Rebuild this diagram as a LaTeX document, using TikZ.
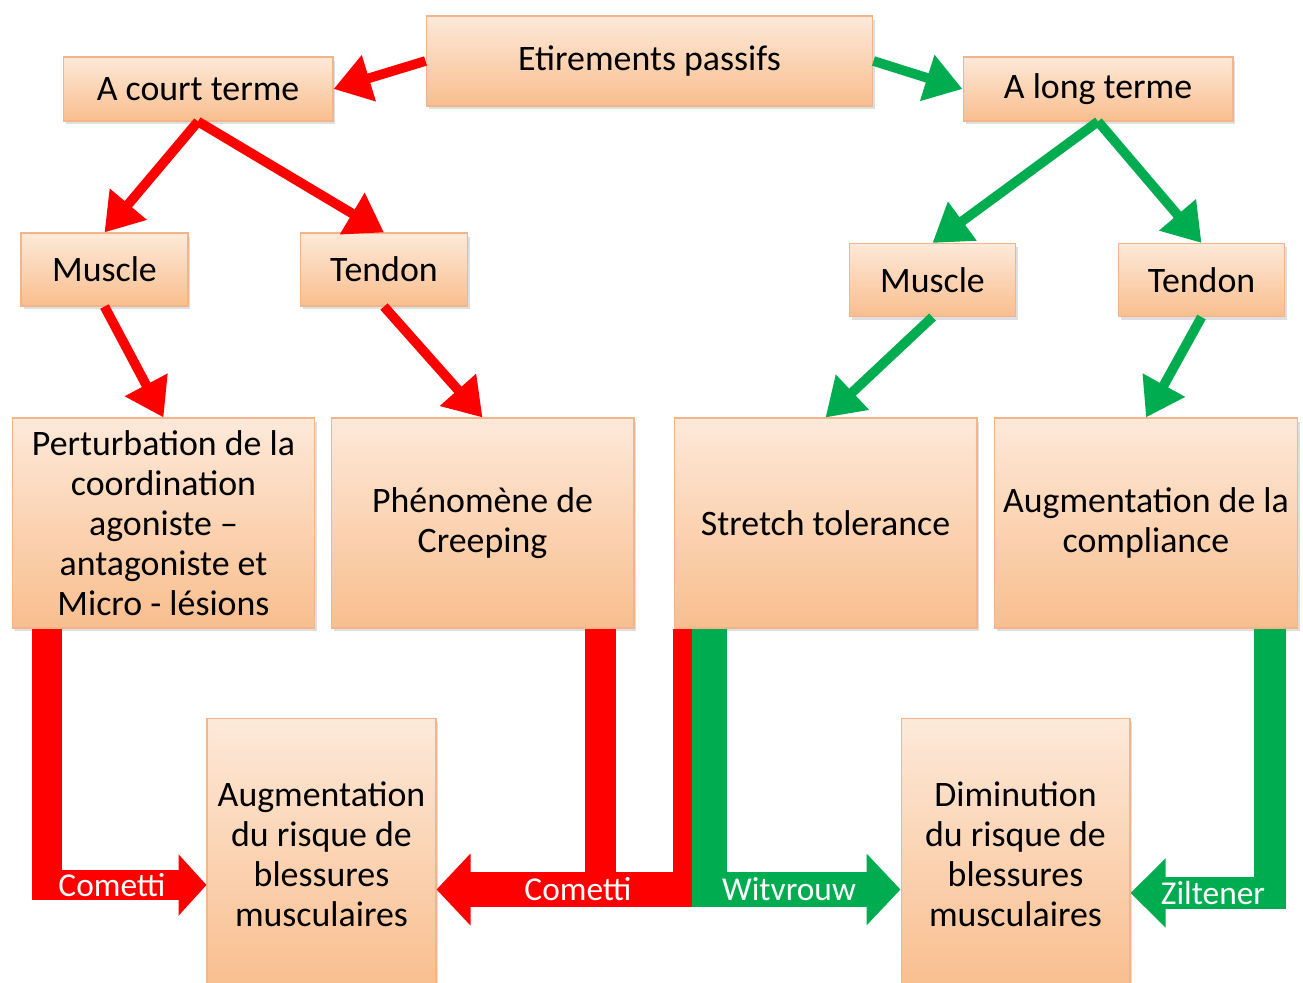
\documentclass[tikz,border=0pt]{standalone}
\usepackage{fontspec}
\setmainfont{Carlito}
\usetikzlibrary{positioning,arrows.meta,calc,shadows}

\definecolor{boxtop}{HTML}{FDE9D9}
\definecolor{boxbot}{HTML}{F9BE8E}
\definecolor{boxline}{HTML}{F2B48A}
\definecolor{pptred}{HTML}{FF0000}
\definecolor{pptgreen}{HTML}{00AC50}

\tikzset{
  box/.style={rectangle, draw=boxline, line width=0.6pt,
    top color=boxtop, bottom color=boxbot, align=center, inner sep=0pt,
    font=\fontsize{20.4}{22.7}\selectfont,
    drop shadow={opacity=0.25, shadow xshift=0.05cm, shadow yshift=-0.07cm}},
  linkarrow/.style={line width=5.5pt, -{Triangle[length=0.74cm,width=0.92cm]}},
  bandarrow/.style={line width=#1, line join=miter,
    -{Triangle[length=0.68cm,width=1.4cm]}},
  bandlabel/.style={text=white, inner sep=0pt, font=\fontsize{19}{20}\selectfont},
}

\begin{document}
\begin{tikzpicture}[x=0.02cm, y=-0.02cm]
    \useasboundingbox (0,0) rectangle (1303,983);
    \fill[white] (0,0) rectangle (1303,983);

    % top row
    \node[box, minimum width=8.94cm, minimum height=1.8cm] (Etirements) at (649.5,61) {Etirements passifs};
    \node[box, minimum width=5.4cm, minimum height=1.28cm] (Court) at (198,89) {A court terme};
    \node[box, minimum width=5.4cm, minimum height=1.28cm] (Long) at (1098,89) {A long terme};

    % muscle / tendon
    \node[box, minimum width=3.34cm, minimum height=1.46cm] (MuscleCourt) at (104.5,269.5) {Muscle};
    \node[box, minimum width=3.34cm, minimum height=1.46cm] (TendonCourt) at (384,269.5) {Tendon};
    \node[box, minimum width=3.32cm, minimum height=1.46cm] (MuscleLong) at (932.5,280) {Muscle};
    \node[box, minimum width=3.32cm, minimum height=1.46cm] (TendonLong) at (1201.5,280) {Tendon};

    % effects
    \node[box, minimum width=6.06cm, minimum height=4.2cm] (Perturbation) at (163.5,523) {%
      Perturbation de la\\coordination\\agoniste –\\antagoniste et\\Micro - lésions};
    \node[box, minimum width=6.06cm, minimum height=4.2cm] (Creeping) at (482.5,523) {%
      Phénomène de\\Creeping};
    \node[box, minimum width=6.06cm, minimum height=4.2cm] (Stretch) at (825.5,523) {%
      Stretch tolerance};
    \node[box, minimum width=6.06cm, minimum height=4.2cm] (Compliance) at (1146,523) {%
      Augmentation de la\\compliance};

    % risks
    \node[box, minimum width=4.58cm, minimum height=5.44cm] (RisqueHaut) at (321.5,854) {%
      Augmentation\\du risque de\\blessures\\musculaires};
    \node[box, minimum width=4.58cm, minimum height=5.44cm] (RisqueBas) at (1015.5,854) {%
      Diminution\\du risque de\\blessures\\musculaires};

    % short term branch
    \draw[linkarrow, pptred] (Etirements.west) -- (Court.east);
    \draw[linkarrow, pptred] (Court.south) -- (MuscleCourt.north);
    \draw[linkarrow, pptred] (Court.south) -- (TendonCourt.north);
    \draw[linkarrow, pptred] (MuscleCourt.south) -- (Perturbation.north);
    \draw[linkarrow, pptred] (TendonCourt.south) -- (Creeping.north);

    % long term branch
    \draw[linkarrow, pptgreen] (Etirements.east) -- (Long.west);
    \draw[linkarrow, pptgreen] (Long.south) -- (MuscleLong.north);
    \draw[linkarrow, pptgreen] (Long.south) -- (TendonLong.north);
    \draw[linkarrow, pptgreen] (MuscleLong.south) -- (Stretch.north);
    \draw[linkarrow, pptgreen] (TendonLong.south) -- (Compliance.north);

    % wide arrows to the risks
    \draw[bandarrow=0.6cm, pptred, -{Triangle[length=0.56cm,width=1.2cm]}]
      ($(Perturbation.south west)+(35,0)$) |- ($(RisqueHaut.west)+(0,31)$);
    \draw[line width=0.62cm, pptred]
      ($(Creeping.south west)+(270,0)$) -- ($(Creeping.south west)+(270,252)$);
    \draw[bandarrow=0.7cm, pptred]
      ($(Stretch.south west)+(16.5,0)$) |- ($(RisqueHaut.east)+(0,35.5)$);
    \draw[bandarrow=0.7cm, pptgreen]
      ($(Stretch.south west)+(36,0)$) |- ($(RisqueBas.west)+(0,35.5)$);
    \draw[bandarrow=0.64cm, pptgreen, -{Triangle[length=0.7cm,width=1.34cm]}]
      ($(Compliance.south east)+(-28,0)$) |- ($(RisqueBas.east)+(0,39)$);

    \node[bandlabel] (CometttiGauche) at (112,885) {Cometti};
    \node[bandlabel] (CometttiDroite) at (578,889) {Cometti};
    \node[bandlabel] (Witvrouw) at (789,889) {Witvrouw};
    \node[bandlabel] (Ziltener) at (1213,893) {Ziltener};
\end{tikzpicture}
\end{document}
